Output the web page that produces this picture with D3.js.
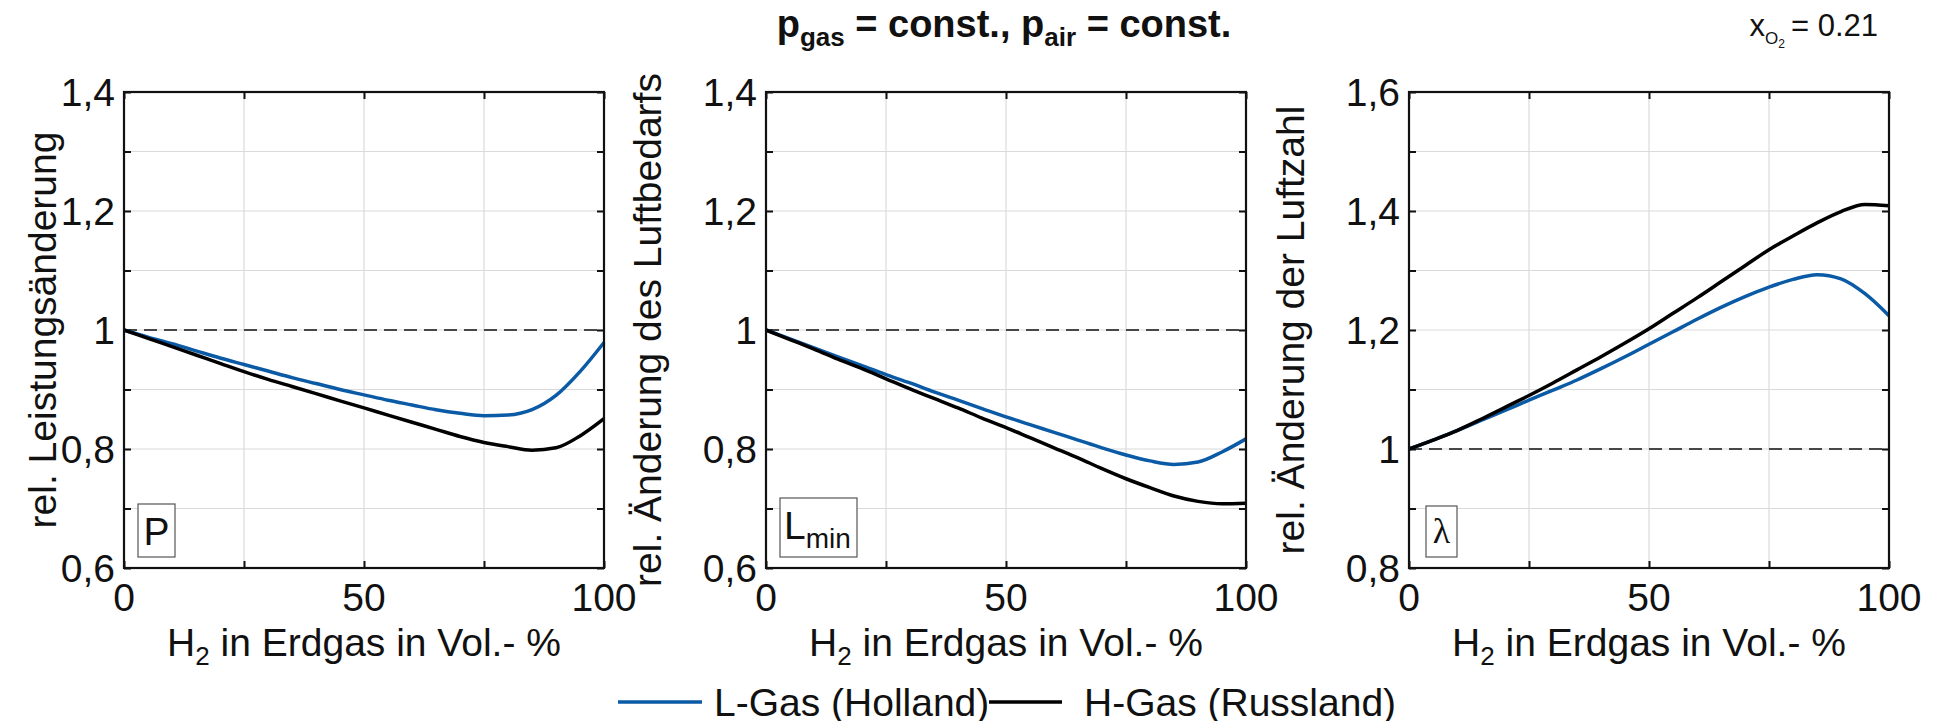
<!DOCTYPE html>
<html>
<head>
<meta charset="utf-8">
<script src="https://cdn.jsdelivr.net/npm/d3@7"></script>
<style>
  body { margin: 0; background: #fff; }
  text { font-family: "Liberation Sans", Arial, sans-serif; fill: #111; }
</style>
</head>
<body>
<div id="chart"></div>
<script>
// data
const h2 = [0, 5, 10, 15, 20, 25, 30, 35, 40, 45, 50, 55, 60, 65, 70, 75, 80, 85, 90, 95, 100]

const pLGas = [1.000, 0.988, 0.977, 0.965, 0.953, 0.942, 0.931, 0.920, 0.910, 0.900, 0.891,
  0.882, 0.874, 0.866, 0.860, 0.856, 0.857, 0.866, 0.890, 0.930, 0.979]
const pHGas = [1.000, 0.986, 0.972, 0.958, 0.944, 0.930, 0.917, 0.905, 0.893, 0.881, 0.869,
  0.857, 0.845, 0.833, 0.821, 0.811, 0.804, 0.798, 0.802, 0.822, 0.851]

const lminLGas = [1.000, 0.985, 0.970, 0.955, 0.940, 0.925, 0.911, 0.896, 0.882, 0.868, 0.854,
  0.841, 0.828, 0.815, 0.802, 0.790, 0.780, 0.774, 0.778, 0.795, 0.817]
const lminHGas = [1.000, 0.984, 0.968, 0.951, 0.935, 0.918, 0.901, 0.885, 0.869, 0.852, 0.836,
  0.819, 0.802, 0.785, 0.767, 0.750, 0.735, 0.721, 0.712, 0.708, 0.709]

const lambdaLGas = [1.000, 1.015, 1.031, 1.048, 1.065, 1.082, 1.099, 1.116, 1.135, 1.155, 1.176,
  1.197, 1.218, 1.238, 1.256, 1.272, 1.285, 1.293, 1.286, 1.261, 1.224]
const lambdaHGas = [1.000, 1.015, 1.031, 1.050, 1.070, 1.090, 1.111, 1.133, 1.155, 1.178, 1.202,
  1.228, 1.254, 1.281, 1.308, 1.335, 1.358, 1.380, 1.399, 1.411, 1.409]

const xTicks = [0, 25, 50, 75, 100]
const xTickLabels = [0, 50, 100]
const yDomainP = [0.6, 1.4]
const yDomainLambda = [0.8, 1.6]
const yLabels = ["rel. Leistungsänderung", "rel. Änderung des Luftbedarfs", "rel. Änderung der Luftzahl"]
const seriesNames = ["L-Gas (Holland)", "H-Gas (Russland)"]
const seriesColors = ["#0b5aa6", "#000000"]

// boiler plate
const svgWidth = 1937
const svgHeight = 721
const fs = 39

let svg = d3.select("#chart")
  .append("svg")
  .attr("width", svgWidth)
  .attr("height", svgHeight)

svg.append("rect")
  .attr("width", svgWidth)
  .attr("height", svgHeight)
  .attr("fill", "#fff")

const plotTop = 92, plotW = 480, plotH = 476

let panels = [
  { left: 124, domain: yDomainP, data: [pLGas, pHGas], yLabel: yLabels[0], labelOff: 82, tag: "P" },
  { left: 766, domain: yDomainP, data: [lminLGas, lminHGas], yLabel: yLabels[1], labelOff: 119, tag: "Lmin" },
  { left: 1409, domain: yDomainLambda, data: [lambdaLGas, lambdaHGas], yLabel: yLabels[2], labelOff: 119, tag: "lambda" }
]

const fmt = v => String(+v.toFixed(1)).replace(".", ",")

panels.forEach(p => {
  let g = svg.append("g").attr("transform", `translate(${p.left}, ${plotTop})`)

  let x = d3.scaleLinear().domain([0, 100]).range([0, plotW])
  let y = d3.scaleLinear().domain(p.domain).range([plotH, 0])
  let yGrid = d3.range(p.domain[0], p.domain[1] + 0.001, 0.1)

  // grid
  g.selectAll(".hgrid")
    .data(yGrid)
    .enter().append("line")
    .attr("x1", 0).attr("x2", plotW)
    .attr("y1", d => y(d)).attr("y2", d => y(d))
    .attr("stroke", "#dadada").attr("stroke-width", 1.2)

  g.selectAll(".vgrid")
    .data(xTicks)
    .enter().append("line")
    .attr("x1", d => x(d)).attr("x2", d => x(d))
    .attr("y1", 0).attr("y2", plotH)
    .attr("stroke", "#dadada").attr("stroke-width", 1.2)

  // inner ticks on all four sides
  g.append("g").call(d3.axisLeft(y).tickValues(yGrid).tickSize(-7).tickFormat(""))
  g.append("g").attr("transform", `translate(${plotW}, 0)`)
    .call(d3.axisRight(y).tickValues(yGrid).tickSize(-7).tickFormat(""))
  g.append("g").attr("transform", `translate(0, ${plotH})`)
    .call(d3.axisBottom(x).tickValues(xTicks).tickSize(-7).tickFormat(""))
  g.append("g").call(d3.axisTop(x).tickValues(xTicks).tickSize(-7).tickFormat(""))
  g.selectAll(".domain").remove()
  g.selectAll(".tick line").attr("stroke", "#111").attr("stroke-width", 2)

  // reference line at 1
  g.append("line")
    .attr("x1", 0).attr("x2", plotW)
    .attr("y1", y(1)).attr("y2", y(1))
    .attr("stroke", "#111").attr("stroke-width", 1.7)
    .attr("stroke-dasharray", "13,7")

  let line = d3.line()
    .x((d, i) => x(h2[i]))
    .y(d => y(d))
    .curve(d3.curveMonotoneX)

  p.data.forEach((s, i) => {
    g.append("path")
      .datum(s)
      .attr("d", line)
      .attr("fill", "none")
      .attr("stroke", seriesColors[i])
      .attr("stroke-width", 3.5)
  })

  // box
  g.append("rect")
    .attr("width", plotW).attr("height", plotH)
    .attr("fill", "none").attr("stroke", "#111").attr("stroke-width", 2.2)

  // tick labels
  g.selectAll(".ylab")
    .data(d3.range(p.domain[0], p.domain[1] + 0.001, 0.2))
    .enter().append("text")
    .attr("x", -9)
    .attr("y", d => y(d))
    .attr("dy", "0.36em")
    .attr("text-anchor", "end")
    .attr("font-size", fs)
    .text(d => fmt(d))

  g.selectAll(".xlab")
    .data(xTickLabels)
    .enter().append("text")
    .attr("x", d => x(d))
    .attr("y", plotH + 43)
    .attr("text-anchor", "middle")
    .attr("font-size", fs)
    .text(d => d)

  // axis titles
  let xt = g.append("text")
    .attr("x", plotW / 2)
    .attr("y", plotH + 88)
    .attr("text-anchor", "middle")
    .attr("font-size", fs)
  xt.append("tspan").text("H")
  xt.append("tspan").attr("font-size", 26).attr("dy", 9).text("2")
  xt.append("tspan").attr("dy", -9).text(" in Erdgas in Vol.- %")

  g.append("text")
    .attr("transform", `translate(${-p.labelOff}, ${plotH / 2}) rotate(-90)`)
    .attr("text-anchor", "middle")
    .attr("dy", "0.36em")
    .attr("font-size", fs)
    .text(p.yLabel)

  // panel tag box
  if (p.tag === "P") {
    g.append("rect").attr("x", 14).attr("y", 412).attr("width", 37).attr("height", 53)
      .attr("fill", "#fff").attr("stroke", "#555").attr("stroke-width", 1.2)
    g.append("text").attr("x", 32.5).attr("y", 453).attr("text-anchor", "middle")
      .attr("font-size", fs).text("P")
  } else if (p.tag === "Lmin") {
    g.append("rect").attr("x", 14).attr("y", 406).attr("width", 77).attr("height", 59)
      .attr("fill", "#fff").attr("stroke", "#555").attr("stroke-width", 1.2)
    let t = g.append("text").attr("x", 18).attr("y", 447).attr("font-size", fs)
    t.append("tspan").text("L")
    t.append("tspan").attr("font-size", 28).attr("dy", 9).text("min")
  } else {
    g.append("rect").attr("x", 17).attr("y", 414).attr("width", 31).attr("height", 51)
      .attr("fill", "#fff").attr("stroke", "#555").attr("stroke-width", 1.2)
    g.append("text").attr("x", 32.5).attr("y", 451).attr("text-anchor", "middle")
      .attr("font-size", 36).style("font-family", "'Liberation Serif', 'DejaVu Serif', serif")
      .text("λ")
  }
})

// title
let title = svg.append("text")
  .attr("x", 1004)
  .attr("y", 37)
  .attr("text-anchor", "middle")
  .attr("font-size", 38)
  .attr("font-weight", "bold")
title.append("tspan").text("p")
title.append("tspan").attr("font-size", 26).attr("dy", 9).text("gas")
title.append("tspan").attr("dy", -9).text(" = const., p")
title.append("tspan").attr("font-size", 26).attr("dy", 9).text("air")
title.append("tspan").attr("dy", -9).text(" = const.")

// oxygen fraction note
let note = svg.append("text")
  .attr("x", 1878)
  .attr("y", 36)
  .attr("text-anchor", "end")
  .attr("font-size", 31)
note.append("tspan").text("x")
note.append("tspan").attr("font-size", 17).attr("dy", 8).text("O")
note.append("tspan").attr("font-size", 12).attr("dy", 4).text("2")
note.append("tspan").attr("dy", -12).attr("dx", 6).text("= 0.21")

// legend
let legend = svg.append("g").attr("transform", "translate(0, 702)")
let legendX = [618, 989]
let legendLen = [84, 73]
seriesNames.forEach((name, i) => {
  legend.append("line")
    .attr("x1", legendX[i]).attr("x2", legendX[i] + legendLen[i])
    .attr("stroke", seriesColors[i]).attr("stroke-width", 3.4)
  legend.append("text")
    .attr("x", legendX[i] + legendLen[i] + (i === 0 ? 12 : 22))
    .attr("dy", "0.36em")
    .attr("font-size", fs)
    .text(name)
})
</script>
</body>
</html>
